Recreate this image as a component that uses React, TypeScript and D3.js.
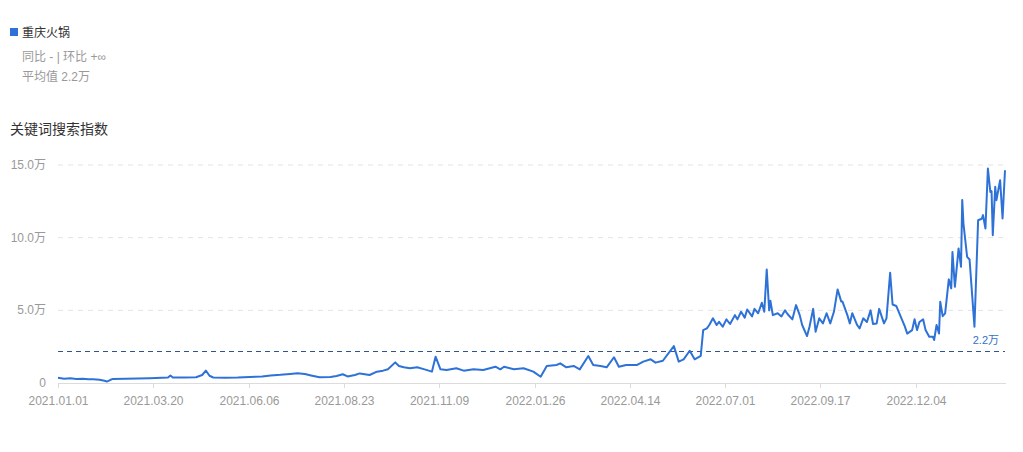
import React from 'react';
import * as d3 from 'd3';

const seriesName = '重庆火锅';
const chartTitle = '关键词搜索指数';
const compareText = '同比 - | 环比 +∞';
const meanText = '平均值 2.2万';
const meanLabel = '2.2万';
const meanValue = 22000;

const dates = [
  '2021-01-01','2021-01-06','2021-01-11','2021-01-16','2021-01-21','2021-01-26','2021-01-30','2021-02-04',
  '2021-02-08','2021-02-10','2021-02-13','2021-02-15','2021-02-25','2021-03-07','2021-03-17','2021-03-27',
  '2021-04-01','2021-04-03','2021-04-05','2021-04-15','2021-04-24','2021-04-29','2021-05-02','2021-05-05',
  '2021-05-08','2021-05-18','2021-05-28','2021-06-07','2021-06-17','2021-06-24','2021-07-02','2021-07-10',
  '2021-07-16','2021-07-22','2021-07-28','2021-08-03','2021-08-12','2021-08-17','2021-08-22','2021-08-26',
  '2021-09-01','2021-09-05','2021-09-13','2021-09-19','2021-09-24','2021-09-28','2021-10-04','2021-10-07',
  '2021-10-11','2021-10-16','2021-10-22','2021-10-28','2021-11-03','2021-11-06','2021-11-10','2021-11-15',
  '2021-11-23','2021-11-29','2021-12-07','2021-12-15','2021-12-25','2021-12-29','2022-01-01','2022-01-09',
  '2022-01-17','2022-01-25','2022-01-31','2022-02-05','2022-02-13','2022-02-16','2022-02-21','2022-02-27',
  '2022-03-04','2022-03-11','2022-03-15','2022-03-21','2022-03-26','2022-04-01','2022-04-05','2022-04-11',
  '2022-04-20','2022-04-25','2022-05-01','2022-05-05','2022-05-11','2022-05-20','2022-05-24','2022-05-28',
  '2022-06-02','2022-06-06','2022-06-11','2022-06-13','2022-06-16','2022-06-18','2022-06-21','2022-06-24',
  '2022-06-26','2022-06-29','2022-07-02','2022-07-05','2022-07-09','2022-07-11','2022-07-14','2022-07-17',
  '2022-07-19','2022-07-23','2022-07-25','2022-07-28','2022-07-31','2022-08-02','2022-08-04','2022-08-06',
  '2022-08-07','2022-08-09','2022-08-13','2022-08-16','2022-08-19','2022-08-21','2022-08-25','2022-08-28',
  '2022-08-31','2022-09-02','2022-09-06','2022-09-08','2022-09-11','2022-09-13','2022-09-16','2022-09-19',
  '2022-09-22','2022-09-25','2022-09-28','2022-10-01','2022-10-04','2022-10-05','2022-10-09','2022-10-11',
  '2022-10-13','2022-10-17','2022-10-19','2022-10-22','2022-10-25','2022-10-28','2022-10-30','2022-11-02',
  '2022-11-04','2022-11-08','2022-11-10','2022-11-13','2022-11-15','2022-11-18','2022-11-22','2022-11-25',
  '2022-11-27','2022-12-01','2022-12-03','2022-12-05','2022-12-07','2022-12-10','2022-12-12','2022-12-15',
  '2022-12-18','2022-12-19','2022-12-21','2022-12-23','2022-12-24','2022-12-26','2022-12-28','2022-12-31',
  '2023-01-02','2023-01-03','2023-01-05','2023-01-08','2023-01-10','2023-01-11','2023-01-12','2023-01-15',
  '2023-01-17','2023-01-21','2023-01-24','2023-01-27','2023-01-28','2023-01-30','2023-02-01','2023-02-03',
  '2023-02-04','2023-02-05','2023-02-07','2023-02-08','2023-02-11','2023-02-13','2023-02-15',
];

const values = [
  3600, 3000, 3300, 2700, 3000, 2500, 2600, 2200,
  1500, 1000, 2200, 2800, 2900, 3100, 3300, 3600,
  3800, 5200, 3800, 3800, 4000, 5500, 8500, 5000,
  3800, 3600, 3800, 4200, 4500, 5200, 5600, 6200,
  6700, 6200, 5000, 3900, 4200, 4800, 6000, 4500,
  5500, 6600, 5500, 7800, 8500, 9400, 14200, 11700,
  10800, 10100, 10800, 9400, 7800, 18100, 9400, 8900,
  10100, 8500, 9400, 8900, 11200, 9400, 11200, 9400,
  10100, 7800, 4300, 11700, 12400, 13500, 10800, 11700,
  9400, 18600, 12400, 11700, 10800, 17700, 11200, 12400,
  12400, 14700, 16300, 14000, 15300, 25400, 14700, 16300,
  22200, 16300, 18600, 36400, 37600, 39900, 44500, 39900,
  42100, 38700, 43800, 40600, 46700, 43800, 49000, 45000,
  50600, 45800, 51000, 48000, 55200, 49000, 78100, 50000,
  56600, 46700, 48000, 45800, 50000, 47500, 43800, 53600,
  46700, 39900, 32300, 38700, 51000, 35300, 44500, 41000,
  48000, 41000, 49000, 64400, 56000, 56000, 46700, 41000,
  48000, 39900, 37600, 44500, 42000, 50000, 40600, 41000,
  51000, 41000, 44500, 75800, 54000, 53000, 45000, 39000,
  34000, 36400, 43800, 36400, 42000, 43800, 36400, 31800,
  31800, 29600, 39900, 34000, 55900, 46000, 47900, 71300,
  65100, 90200, 66200, 92600, 80000, 126000, 109700, 86800,
  85000, 38700, 112000, 113000, 115500, 106300, 147600, 131500,
  132000, 101700, 135000, 125800, 139500, 113200, 146400,
];

const yTicks = [0, 50000, 100000, 150000];
const xTickLabels = [
  '2021.01.01','2021.03.20','2021.06.06','2021.08.23','2021.11.09',
  '2022.01.26','2022.04.14','2022.07.01','2022.09.17','2022.12.04',
];

const FONT = '"Liberation Sans", Arial, "Noto Sans CJK SC", sans-serif';

export default function App() {
  const W = 1023, H = 452;
  const left = 58, right = 1005, top = 165, bottom = 383;
  const parse = d3.timeParse('%Y-%m-%d');
  const parseTick = d3.timeParse('%Y.%m.%d');
  const pts: [Date, number][] = dates.map((d, i) => [parse(d) as Date, values[i]]);
  const x = d3.scaleTime().domain([pts[0][0], pts[pts.length - 1][0]]).range([left, right]);
  const y = d3.scaleLinear().domain([0, 150000]).range([bottom, top]);
  const line = d3.line<[Date, number]>().x(d => x(d[0])).y(d => y(d[1]));
  const fmt = (v: number) => (v === 0 ? '0' : (v / 10000).toFixed(1) + '万');

  return (
    <svg width={W} height={H} style={{ position: 'absolute', left: 0, top: 0, background: '#fff' }} fontFamily={FONT}>
      {/* legend */}
      <rect x={10} y={28} width={8} height={8} fill="#2e72d8" />
      <text x={22} y={36.5} fontSize={12} fill="#333">{seriesName}</text>
      <text x={22} y={61} fontSize={12} fill="#999">{compareText}</text>
      <text x={22} y={81} fontSize={12} fill="#999">{meanText}</text>
      <text x={10} y={134} fontSize={14} fill="#333">{chartTitle}</text>

      {/* grid */}
      {yTicks.filter(t => t > 0).map(t => (
        <line key={t} x1={left} x2={right + 1} y1={y(t)} y2={y(t)} stroke="#e3e3e3" strokeDasharray="5 5" />
      ))}
      {yTicks.map(t => (
        <text key={'l' + t} x={46} y={y(t) + 4} fontSize={12} fill="#999" textAnchor="end">{fmt(t)}</text>
      ))}

      {/* x axis */}
      <line x1={left} x2={right + 1} y1={bottom + 0.5} y2={bottom + 0.5} stroke="#dcdcdc" />
      {xTickLabels.map(t => {
        const xx = Math.round(x(parseTick(t) as Date)) + 0.5;
        return (
          <g key={t}>
            <line x1={xx} x2={xx} y1={bottom} y2={bottom + 5} stroke="#dcdcdc" />
            <text x={xx} y={bottom + 22} fontSize={12} fill="#999" textAnchor="middle">{t}</text>
          </g>
        );
      })}

      {/* mean line */}
      <line x1={left} x2={right} y1={Math.round(y(meanValue)) + 0.5} y2={Math.round(y(meanValue)) + 0.5} stroke="#2d5590" strokeDasharray="5 4" />
      <text x={999} y={y(meanValue) - 7} fontSize={11} fill="#3470c8" textAnchor="end">{meanLabel}</text>

      {/* series */}
      <path d={line(pts) || ''} fill="none" stroke="#2e72d8" strokeWidth={2} strokeLinejoin="round" />
    </svg>
  );
}
